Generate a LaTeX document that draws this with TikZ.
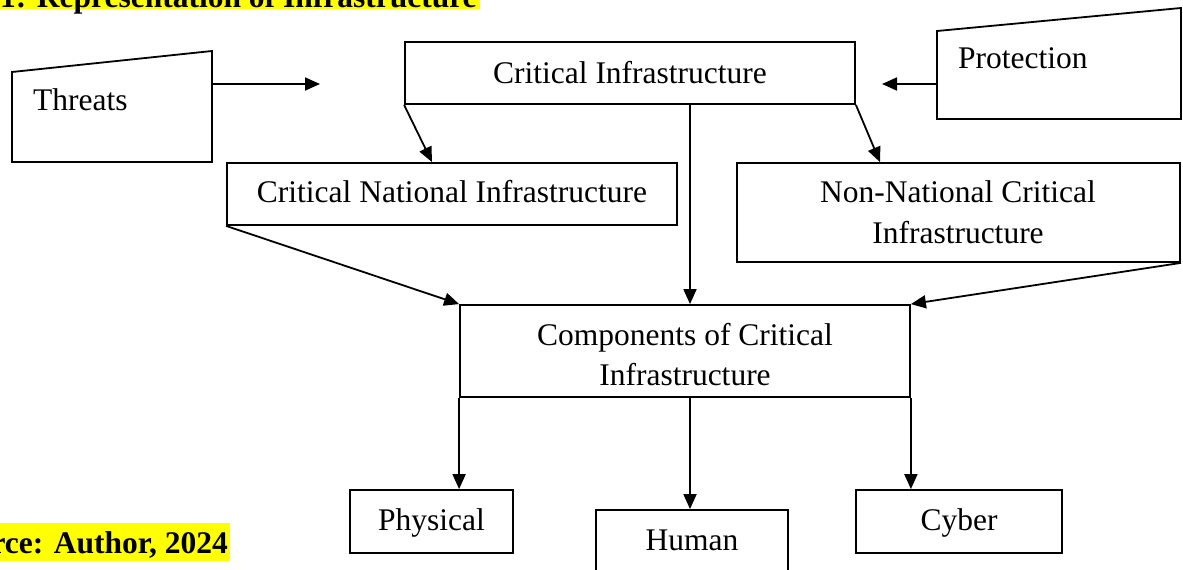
\documentclass[tikz,border=0pt]{standalone}
\usepackage{fontspec}
\setmainfont{Liberation Serif}
\usetikzlibrary{arrows.meta}
\definecolor{hl}{HTML}{FFFF00}
\begin{document}
\begin{tikzpicture}[x=1pt,y=-1pt,
  arr/.style={-{Triangle[length=15pt,width=13pt]}, line width=1.8pt},
  box/.style={draw, line width=1.8pt, rectangle, inner sep=0pt},
  txt/.style={font=\fontsize{31.5}{36}\selectfont, inner sep=0pt, anchor=base},
  btxt/.style={font=\fontsize{31.5}{36}\selectfont\bfseries, inner sep=0pt},
  outline/.style={draw, line width=1.8pt, line join=miter}]
\useasboundingbox (0,0) rectangle (1183,570);
% title and source
\fill[hl] (0,-20) rectangle (480,9);
\node[btxt, anchor=base west] (title) at (0,7) {1: Representation of Infrastructure};
\fill[hl] (0,523) rectangle (230,561);
\node[btxt, anchor=base east] (source) at (228,553) {rce: Author, 2024};
% threats
\draw[outline] (12,72) -- (212,51) -- (212,162) -- (12,162) -- cycle;
\node[txt, anchor=base west] (threats) at (33,110) {Threats};
\coordinate (thr-out) at (212,84);
\coordinate (thr-tip) at (320,84);
\draw[arr] (thr-out) -- (thr-tip);
% protection
\draw[outline] (937,31) -- (1181,8) -- (1181,119) -- (937,119) -- cycle;
\node[txt, anchor=base west] (protection) at (958,68) {Protection};
\coordinate (pro-out) at (937,84);
\coordinate (pro-tip) at (882,84);
\draw[arr] (pro-out) -- (pro-tip);
% main boxes
\node[box, minimum width=450pt, minimum height=62pt] (ci) at (630,73) {};
\node[txt] (ci-t) at (630,83) {Critical Infrastructure};
\node[box, minimum width=450pt, minimum height=62pt] (cni) at (452,194) {};
\node[txt] (cni-t) at (452,202) {Critical National Infrastructure};
\node[box, minimum width=443pt, minimum height=99pt] (nnci) at (958.5,212.5) {};
\node[txt] (nnci-t1) at (958,202) {Non-National Critical};
\node[txt] (nnci-t2) at (958,243) {Infrastructure};
\node[box, minimum width=450pt, minimum height=92pt] (comp) at (685,351) {};
\node[txt] (comp-t1) at (685,345) {Components of Critical};
\node[txt] (comp-t2) at (685,385) {Infrastructure};
\node[box, minimum width=163pt, minimum height=63pt] (phys) at (431.5,521.5) {};
\node[txt] (phys-t) at (431.5,530) {Physical};
\node[box, minimum width=192pt, minimum height=80pt] (hum) at (692,550) {};
\node[txt] (hum-t) at (692,550) {Human};
\node[box, minimum width=206pt, minimum height=63pt] (cyb) at (959,521.5) {};
\node[txt] (cyb-t) at (959,530) {Cyber};
% connectors
\coordinate (vx) at (690,0);
\coordinate (cni-in) at (432,0);
\coordinate (nnci-in) at (880,0);
\draw[arr] (ci.south west) -- (cni-in |- cni.north);
\draw[arr] (ci.south east) -- (nnci-in |- nnci.north);
\draw[arr] (vx |- ci.south) -- (vx |- comp.north);
\draw[arr] (cni.south west) -- (comp.north west);
\draw[arr] (nnci.south east) -- (comp.north east);
\draw[arr] (comp.south west) -- (comp.south west |- phys.north);
\draw[arr] (vx |- comp.south) -- (vx |- hum.north);
\draw[arr] (comp.south east) -- (comp.south east |- cyb.north);
\end{tikzpicture}
\end{document}
